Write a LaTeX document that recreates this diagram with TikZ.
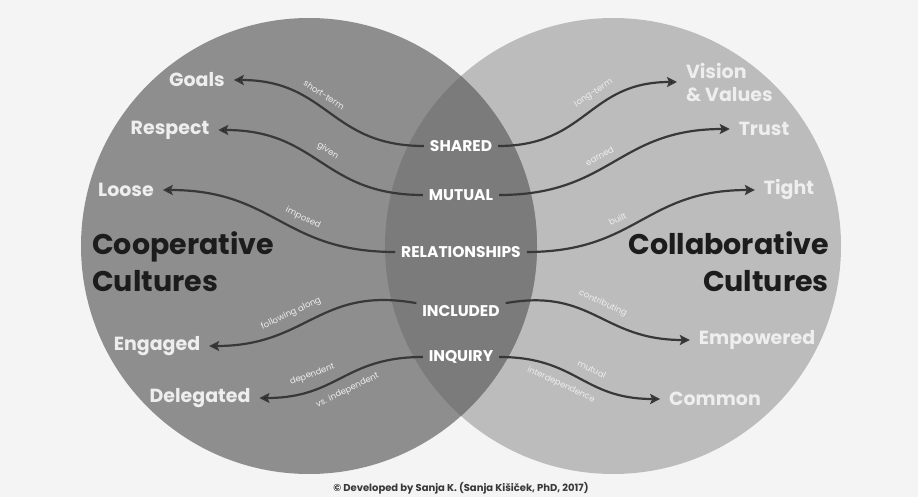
\documentclass[tikz,border=0pt]{standalone}
\usepackage{fontspec}
\setmainfont{Poppins}
\usetikzlibrary{arrows.meta}
\definecolor{paper}{HTML}{F4F4F4}
\definecolor{leftgray}{HTML}{8E8E8E}
\definecolor{rightgray}{HTML}{BCBCBC}
\definecolor{lensgray}{HTML}{7B7B7B}
\definecolor{inkgray}{HTML}{383838}
\definecolor{titleblack}{HTML}{1C1C1C}
\definecolor{softwhite}{HTML}{EEEEEE}

\begin{document}
\begin{tikzpicture}[x=1pt,y=-1pt,
   outer/.style={text=softwhite,font=\fontsize{19}{23}\selectfont\bfseries,inner sep=2pt,outer sep=7pt},
   core/.style={text=white,font=\fontsize{15.5}{17}\selectfont\bfseries,inner sep=1pt,outer sep=5pt},
   title/.style={text=titleblack,font=\fontsize{28.5}{37}\selectfont\bfseries,inner sep=0pt},
   tag/.style={text=softwhite,font=\fontsize{8.5}{9}\selectfont,sloped,inner sep=1pt},
   flow/.style={draw=inkgray,line width=2.2pt,looseness=1.2,-{Stealth[length=10pt,width=10pt,inset=2pt]}}]
\useasboundingbox (0,0) rectangle (918,497);
\fill[paper] (0,0) rectangle (918,497);
%
\fill[rightgray] (613,246) circle[radius=228pt];
\fill[leftgray] (309,246) circle[radius=228pt];
\begin{scope}
  \clip (309,246) circle[radius=228pt];
  \fill[lensgray] (613,246) circle[radius=228pt];
\end{scope}
%
       \node [core] at (461,146) (shared) {SHARED};
        \node [core] at (461,195) (mutual) {MUTUAL};
         \node [core] at (461,252) (relationships) {RELATIONSHIPS};
          \node [core] at (461,311) (included) {INCLUDED};
           \node [core] at (461,357) (inquiry) {INQUIRY};
%
       \node [outer] at (197,80) (goals) {Goals};
        \node [outer] at (170,130) (respect) {Respect};
         \node [outer] at (126,190) (loose) {Loose};
          \node [outer] at (157,346) (engaged) {Engaged};
           \node [outer] at (200,398) (delegated) {Delegated};
%
       \node [outer,align=left,anchor=west] at (677,82) (vision) {Vision\\\& Values};
        \node [outer] at (764,129) (trust) {Trust};
         \node [outer] at (789,190) (tight) {Tight};
          \node [outer] at (757,340) (empowered) {Empowered};
           \node [outer] at (715,399) (common) {Common};
%
       \node [title,align=left,anchor=west] at (92,262) (coop) {Cooperative\\Cultures};
        \node [title,align=right,anchor=east] at (829,262) (collab) {Collaborative\\Cultures};
%
\node [text=inkgray,font=\fontsize{10}{12}\selectfont\bfseries] at (461,488) (credit) {© Developed by Sanja K. (Sanja Kišiček, PhD, 2017)};
%
%
\path[flow] (shared) edge[out=180,in=0] node[tag,above=7pt,pos=.58] {short-term} (goals);
\path[flow] (mutual) edge[out=180,in=0] node[tag,above=7pt,pos=.5] {given} (respect);
\path[flow] (relationships) edge[out=180,in=0] node[tag,above=7pt,pos=.4] {imposed} (loose);
\path[flow] (included) edge[out=170,in=0] node[tag,above=7pt,pos=.6] {following along} (engaged);
\path[flow] (inquiry) edge[out=180,in=0] node[tag,above=8pt,pos=.68] {dependent}
                                          node[tag,below=8pt,pos=.5] {vs. independent} (delegated);
\path[flow] (shared) edge[out=0,in=180] node[tag,above=7pt,pos=.6] {long-term} (vision);
\path[flow] (mutual) edge[out=0,in=180] node[tag,above=7pt,pos=.45] {earned} (trust);
\path[flow] (relationships) edge[out=0,in=180] node[tag,above=7pt,pos=.4] {built} (tight);
\path[flow] (included) edge[out=10,in=180] node[tag,above=7pt,pos=.5] {contributing} (empowered);
\path[flow] (inquiry) edge[out=0,in=180] node[tag,above=8pt,pos=.55] {mutual}
                                         node[tag,below=8pt,pos=.4] {interdependence} (common);

\end{tikzpicture}
\end{document}
